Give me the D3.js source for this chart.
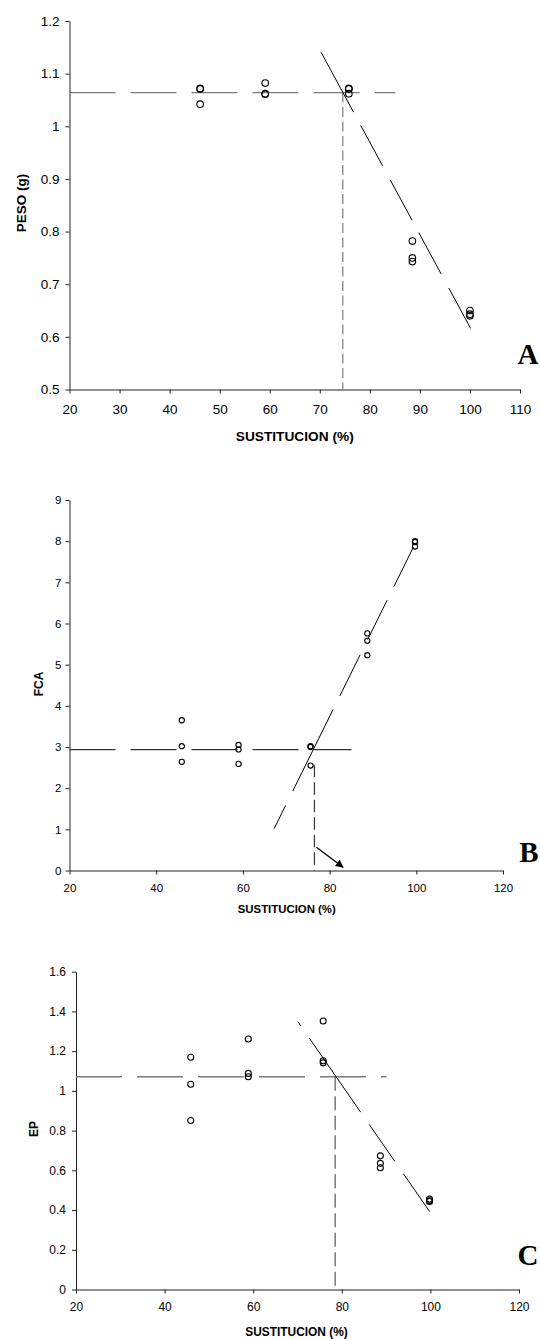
<!DOCTYPE html>
<html><head><meta charset="utf-8">
<script src="https://cdn.jsdelivr.net/npm/d3@7"></script>
<style>
html,body{margin:0;padding:0;background:#fff;}
svg{display:block;background:#fff;}
text{font-family:"Liberation Sans",Arial,sans-serif;fill:#000;}
</style></head><body>
<svg id="chart" width="540" height="1339"></svg>
<script>
// ---------- Panel A : PESO (g) ----------
const sustA = [46.1, 59.1, 75.8, 88.5, 100.0];
const pesoRep1 = [1.072, 1.082, 1.072, 0.782, 0.650];
const pesoRep2 = [1.071, 1.062, 1.071, 0.750, 0.643];
const pesoRep3 = [1.042, 1.061, 1.062, 0.743, 0.640];
const pesoPlateau = [[20, 1.064], [85.1, 1.064]];
const pesoSlope = [[70.27, 1.1405], [100.17, 0.6155]];
const pesoBreak = [[74.6, 1.064], [74.6, 0.5]];
const ticksAx = [20, 30, 40, 50, 60, 70, 80, 90, 100, 110];
const ticksAy = [0.5, 0.6, 0.7, 0.8, 0.9, 1.0, 1.1, 1.2];

// ---------- Panel B : FCA ----------
const sustB = [45.9, 59.0, 75.6, 88.7, 99.7];
const fcaRep1 = [3.65, 3.05, 3.02, 5.76, 8.00];
const fcaRep2 = [3.02, 2.94, 3.00, 5.58, 7.98];
const fcaRep3 = [2.64, 2.59, 2.55, 5.23, 7.87];
const fcaPlateau = [[20, 2.937], [85.06, 2.937]];
const fcaSlope = [[67.2, 1.015], [99.4, 7.87]];
const fcaBreak = [[76.5, 2.57], [76.5, 0]];
const fcaArrow = [[76.96, 0.567], [83.1, 0.08]];
const ticksBx = [20, 40, 60, 80, 100, 120];
const ticksBy = [0, 1, 2, 3, 4, 5, 6, 7, 8, 9];

// ---------- Panel C : EP ----------
const sustC = [45.9, 58.9, 75.8, 88.7, 99.8];
const epRep1 = [1.169, 1.261, 1.352, 0.673, 0.455];
const epRep2 = [1.033, 1.088, 1.152, 0.635, 0.447];
const epRep3 = [0.851, 1.071, 1.141, 0.613, 0.443];
const epPlateau = [[20, 1.071], [90.08, 1.071]];
const epSlope = [[70.1, 1.348], [100.03, 0.386]];
const epBreak = [[78.5, 1.071], [78.5, 0]];
const ticksCx = [20, 40, 60, 80, 100, 120];
const ticksCy = [0, 0.2, 0.4, 0.6, 0.8, 1.0, 1.2, 1.4, 1.6];

const xTitle = "SUSTITUCION (%)";

const svg = d3.select("#chart");
svg.append("defs").append("marker")
  .attr("id", "arrowhead").attr("viewBox", "0 0 10 10")
  .attr("refX", 9).attr("refY", 5)
  .attr("markerWidth", 8).attr("markerHeight", 8)
  .attr("markerUnits", "userSpaceOnUse")
  .attr("orient", "auto")
  .append("path").attr("d", "M0,0 L10,5 L0,10 Z").attr("fill", "#000");

function panel(cfg) {
  const g = svg.append("g");
  const x = d3.scaleLinear().domain(cfg.xDomain).range(cfg.xRange);
  const y = d3.scaleLinear().domain(cfg.yDomain).range(cfg.yRange);

  const xa = g.append("g").attr("transform", `translate(0,${cfg.yRange[0]})`)
    .call(d3.axisBottom(x).tickValues(cfg.xTicks).tickSize(4).tickSizeOuter(0)
      .tickPadding(cfg.xPad).tickFormat(d => String(d)));
  const ya = g.append("g").attr("transform", `translate(${cfg.xRange[0]},0)`)
    .call(d3.axisLeft(y).tickValues(cfg.yTicks).tickSize(4).tickSizeOuter(0)
      .tickPadding(cfg.yPad).tickFormat(d => String(+d.toFixed(2))));
  [xa, ya].forEach(a => {
    a.select(".domain").attr("stroke", "#222").attr("stroke-width", 1);
    a.selectAll(".tick line").attr("stroke", "#222");
    a.selectAll("text").style("font-family", '"Liberation Sans", Arial, sans-serif')
      .style("font-size", cfg.tickFont + "px").attr("fill", "#111");
  });

  const line = d3.line().x(d => x(d[0])).y(d => y(d[1]));
  g.append("path").datum(cfg.plateau).attr("d", line).attr("fill", "none")
    .attr("stroke", cfg.plateauColor).attr("stroke-width", cfg.plateauWidth)
    .attr("stroke-dasharray", "46,15");
  g.append("path").datum(cfg.breakLine).attr("d", line).attr("fill", "none")
    .attr("stroke", cfg.breakColor).attr("stroke-width", 1.2)
    .attr("stroke-dasharray", cfg.breakDash);
  g.append("path").datum(cfg.slope).attr("d", line).attr("fill", "none")
    .attr("stroke", "#000").attr("stroke-width", 1)
    .attr("stroke-dasharray", cfg.slopeDash);
  if (cfg.arrow) {
    g.append("path").datum(cfg.arrow).attr("d", line).attr("fill", "none")
      .attr("stroke", "#000").attr("stroke-width", 1.3)
      .attr("marker-end", "url(#arrowhead)");
  }

  cfg.reps.forEach(rep => {
    g.append("g").selectAll("circle").data(rep.map((v, i) => [cfg.xs[i], v]))
      .join("circle")
      .attr("cx", d => x(d[0])).attr("cy", d => y(d[1]))
      .attr("r", cfg.r).attr("fill", "none").attr("stroke", "#000").attr("stroke-width", 1.1);
  });

  g.append("text").attr("x", (cfg.xRange[0] + cfg.xRange[1]) / 2 + cfg.titleDx)
    .attr("y", cfg.xTitleY).attr("text-anchor", "middle")
    .attr("font-weight", "bold").style("font-size", cfg.titleFont + "px")
    .attr("textLength", cfg.xTitleLen).attr("lengthAdjust", "spacingAndGlyphs")
    .text(xTitle);
  g.append("text").attr("transform", `translate(${cfg.yTitleX},${cfg.yTitleY}) rotate(-90)`)
    .attr("text-anchor", "middle").attr("font-weight", "bold")
    .style("font-size", cfg.yTitleFont + "px").text(cfg.yTitle);
  g.append("text").attr("x", 538.5).attr("y", cfg.letterY).attr("text-anchor", "end")
    .style("font-family", '"Liberation Serif", "Times New Roman", serif')
    .style("font-size", "29px").attr("font-weight", "bold").text(cfg.letter);
}

panel({
  xDomain: [20, 110], xRange: [69.5, 520], yDomain: [0.5, 1.2], yRange: [389.5, 21],
  xTicks: ticksAx, yTicks: ticksAy, xPad: 11, yPad: 6, tickFont: 13.5,
  plateau: pesoPlateau, plateauColor: "#7a7a7a", plateauWidth: 1.4,
  breakLine: pesoBreak, breakColor: "#7a7a7a", breakDash: "10,4.5",
  slope: pesoSlope, slopeDash: "68,15,46,16,46,14,47,16,46",
  xs: sustA, reps: [pesoRep1, pesoRep2, pesoRep3], r: 3.3,
  titleDx: 0, xTitleY: 440.5, titleFont: 13, xTitleLen: 118,
  yTitle: "PESO (g)", yTitleX: 25.5, yTitleY: 203, yTitleFont: 13.5,
  letter: "A", letterY: 363.5
});

panel({
  xDomain: [20, 120], xRange: [69.5, 503], yDomain: [0, 9], yRange: [870.5, 500],
  xTicks: ticksBx, yTicks: ticksBy, xPad: 9, yPad: 4, tickFont: 11.5,
  plateau: fcaPlateau, plateauColor: "#333", plateauWidth: 1.1,
  breakLine: fcaBreak, breakColor: "#333", breakDash: "12.5,5",
  slope: fcaSlope, slopeDash: "26,16,91,15,46,17,44,15,44",
  arrow: fcaArrow,
  xs: sustB, reps: [fcaRep1, fcaRep2, fcaRep3], r: 2.6,
  titleDx: 0.5, xTitleY: 913, titleFont: 11.5, xTitleLen: 98,
  yTitle: "FCA", yTitleX: 43, yTitleY: 684, yTitleFont: 12,
  letter: "B", letterY: 861.7
});

panel({
  xDomain: [20, 120], xRange: [76, 519], yDomain: [0, 1.6], yRange: [1289.5, 971.7],
  xTicks: ticksCx, yTicks: ticksCy, xPad: 8.5, yPad: 6, tickFont: 12,
  plateau: epPlateau, plateauColor: "#7a7a7a", plateauWidth: 1.4,
  breakLine: epBreak, breakColor: "#555", breakDash: "14,5.5",
  slope: epSlope, slopeDash: "5,15,90,15,45,15,46",
  xs: sustC, reps: [epRep1, epRep2, epRep3], r: 3,
  titleDx: -1, xTitleY: 1336, titleFont: 12, xTitleLen: 102.6,
  yTitle: "EP", yTitleX: 38, yTitleY: 1129, yTitleFont: 12,
  letter: "C", letterY: 1264.5
});
</script>
</body></html>
